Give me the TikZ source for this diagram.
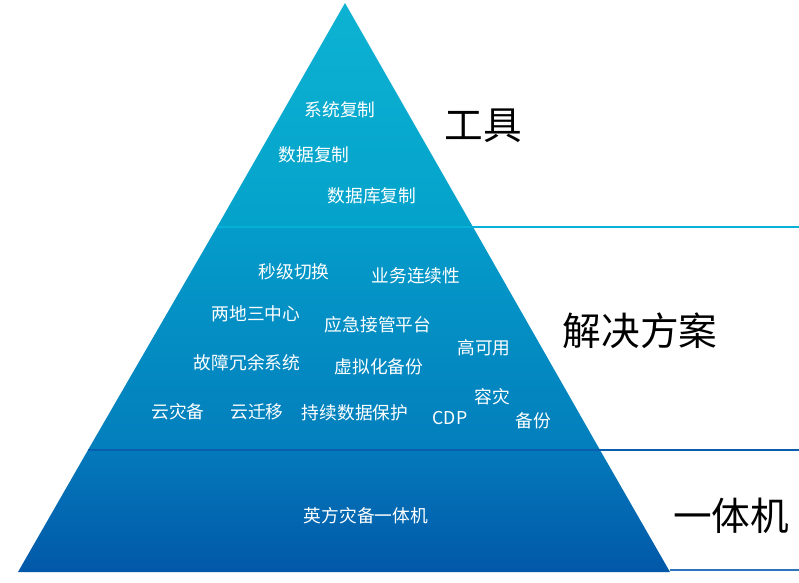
\documentclass[tikz,border=0pt]{standalone}
\usepackage{fontspec}
\setmainfont{Noto Sans CJK SC}
\begin{document}
\begin{tikzpicture}[x=0.75pt,y=-0.75pt,
  lbl/.style={text=white,font=\fontsize{13.3pt}{15pt}\selectfont,inner sep=0pt,anchor=center},
  head/.style={text=black,font=\fontsize{29pt}{32pt}\selectfont,inner sep=0pt,anchor=center}]
\definecolor{cA}{HTML}{0DB2D2}
\definecolor{cB}{HTML}{04A2CB}
\definecolor{cC}{HTML}{049CCA}
\definecolor{cD}{HTML}{037EBC}
\definecolor{cE}{HTML}{0379BB}
\definecolor{cF}{HTML}{0258A8}
\definecolor{lineA}{HTML}{06B0D6}
\definecolor{lineB}{HTML}{0A5EAD}
\definecolor{lineC}{HTML}{2E74BD}
\useasboundingbox (0,0) rectangle (799,582);
\fill[white] (0,0) rectangle (799,582);
% coordinates
\coordinate (apex) at (345,3);
\coordinate (l1) at (217,227);
\coordinate (r1) at (473,227);
\coordinate (l2) at (88,450);
\coordinate (r2) at (600,450);
\coordinate (l3) at (18,572);
\coordinate (r3) at (670,572);
\coordinate (e1) at (799,227);
\coordinate (e2) at (799,450);
\coordinate (b1) at (670,570);
\coordinate (b2) at (799,570);
% layers
\shade[top color=cA,bottom color=cB] (apex) -- (r1) -- (l1) -- cycle;
\shade[top color=cC,bottom color=cD] (l1) -- (r1) -- (r2) -- (l2) -- cycle;
\shade[top color=cE,bottom color=cF] (l2) -- (r2) -- (r3) -- (l3) -- cycle;
% divider lines
\draw[lineA,line width=2.2pt] (l1) -- (e1);
\draw[lineB,line width=2.2pt] (l2) -- (e2);
\draw[lineC,line width=1.4pt] (b1) -- (b2);
% labels
\node[lbl] (t1) at (340,110) {系统复制};
\node[lbl] (t2) at (314,155) {数据复制};
\node[lbl] (t3) at (372,196) {数据库复制};
\node[lbl] (m1) at (294,272) {秒级切换};
\node[lbl] (m2) at (416,276) {业务连续性};
\node[lbl] (m3) at (256,314) {两地三中心};
\node[lbl] (m4) at (378,325) {应急接管平台};
\node[lbl] (m5) at (484,348) {高可用};
\node[lbl] (m6) at (247,363) {故障冗余系统};
\node[lbl] (m7) at (379,367) {虚拟化备份};
\node[lbl] (m8) at (492,397) {容灾};
\node[lbl] (m9) at (178,412) {云灾备};
\node[lbl] (m10) at (257,412) {云迁移};
\node[lbl] (m11) at (355,413) {持续数据保护};
\node[lbl] (m12) at (450,418) {CDP};
\node[lbl] (m13) at (533,421) {备份};
\node[lbl] (b) at (366,516) {英方灾备一体机};
% headings
\node[head] (h1) at (483,126) {工具};
\node[head] (h2) at (640,331) {解决方案};
\node[head] (h3) at (731,516) {一体机};
\end{tikzpicture}
\end{document}
